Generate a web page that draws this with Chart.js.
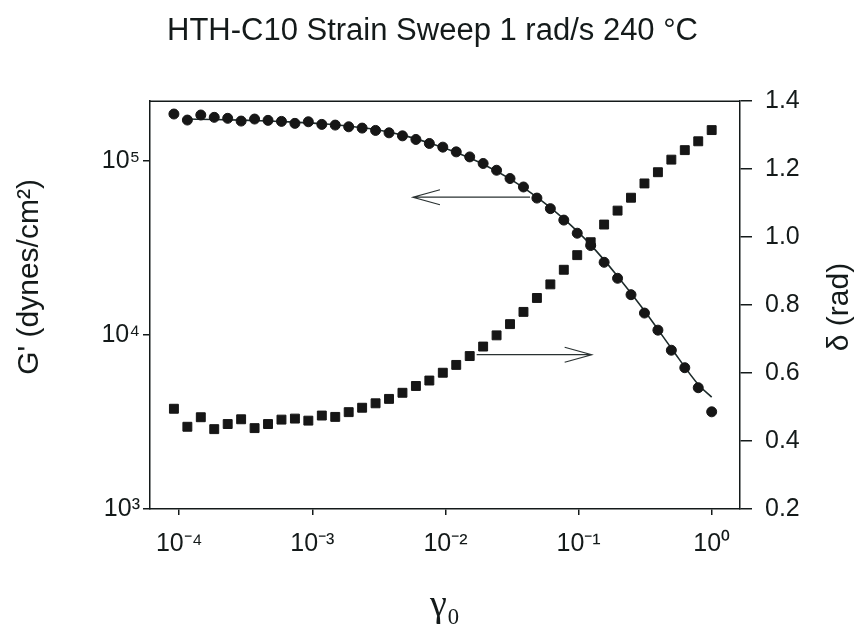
<!DOCTYPE html>
<html>
<head>
<meta charset="utf-8">
<script src="https://cdn.jsdelivr.net/npm/chart.js@4.4.0/dist/chart.umd.min.js"></script>
<style>
  html, body { margin: 0; padding: 0; background: #ffffff; }
  #wrap { width: 865px; height: 633px; position: relative; }
</style>
</head>
<body>
<div id="wrap"><canvas id="c" width="865" height="633"></canvas></div>
<script>
// ---------------- data ----------------
const strain = [
  9.12e-5, 1.151e-4, 1.452e-4, 1.832e-4, 2.312e-4, 2.917e-4, 3.681e-4, 4.645e-4, 5.861e-4, 7.396e-4,
  9.33e-4, 1.178e-3, 1.486e-3, 1.875e-3, 2.366e-3, 2.985e-3, 3.767e-3, 4.753e-3, 5.998e-3, 7.568e-3,
  9.55e-3, 1.205e-2, 1.521e-2, 1.919e-2, 2.421e-2, 3.055e-2, 3.855e-2, 4.864e-2, 6.138e-2, 7.745e-2,
  9.77e-2, 0.1233, 0.1556, 0.1963, 0.2477, 0.3126, 0.3945, 0.4977, 0.628, 0.7925,
  1.0
];
const storageModulus = [
  1.865e5, 1.722e5, 1.841e5, 1.785e5, 1.762e5, 1.699e5, 1.745e5, 1.715e5, 1.692e5, 1.648e5,
  1.683e5, 1.626e5, 1.611e5, 1.575e5, 1.548e5, 1.501e5, 1.454e5, 1.397e5, 1.332e5, 1.263e5,
  1.203e5, 1.130e5, 1.057e5, 9.69e4, 8.86e4, 7.94e4, 7.10e4, 6.13e4, 5.33e4, 4.58e4,
  3.85e4, 3.27e4, 2.62e4, 2.12e4, 1.706e4, 1.338e4, 1.067e4, 8.18e3, 6.49e3, 4.98e3,
  3.62e3
];
const phaseAngle = [
  0.495, 0.442, 0.470, 0.435, 0.450, 0.464, 0.438, 0.450, 0.463, 0.466,
  0.460, 0.475, 0.471, 0.485, 0.498, 0.511, 0.524, 0.542, 0.562, 0.578,
  0.601, 0.624, 0.650, 0.678, 0.711, 0.744, 0.780, 0.821, 0.861, 0.904,
  0.947, 0.985, 1.037, 1.078, 1.116, 1.158, 1.191, 1.228, 1.256, 1.282,
  1.315
];
const fitStrain = [
  1.151e-4, 1.832e-4, 2.917e-4, 4.645e-4, 7.396e-4, 1.178e-3, 1.875e-3, 2.985e-3, 4.753e-3, 7.568e-3,
  1.205e-2, 1.919e-2, 3.055e-2, 4.864e-2, 7.745e-2, 0.1233, 0.1963, 0.3126, 0.4977, 0.7925, 1.0
];
const fitModulus = [
  1.745e5, 1.735e5, 1.72e5, 1.70e5, 1.675e5, 1.64e5, 1.59e5, 1.52e5, 1.41e5, 1.27e5,
  1.12e5, 9.6e4, 7.9e4, 6.2e4, 4.65e4, 3.3e4, 2.18e4, 1.38e4, 8.4e3, 5.2e3, 4.4e3
];
const strainTicks = [1e-4, 1e-3, 1e-2, 1e-1, 1];
const modulusTicks = [1e3, 1e4, 1e5];
const deltaTicks = [0.2, 0.4, 0.6, 0.8, 1.0, 1.2, 1.4];
// annotation arrows, in data units: [fromStrain, toStrain, level]
const arrowToModulus = [0.0432, 0.0057, 6.2e4];
const arrowToDelta = [0.01715, 0.1254, 0.654];

// ---------------- styles / layout ----------------
const INK = '#141a1a';
const SANS = "'Liberation Sans', Arial, sans-serif";
const SERIF = "'Liberation Serif', 'DejaVu Serif', serif";
const W = 865, H = 633;
const AREA = { left: 150, right: 740, bottom: 509 };

const SUP = { '-': '\u207B', '0': '\u2070', '1': '\u00B9', '2': '\u00B2', '3': '\u00B3',
  '4': '\u2074', '5': '\u2075', '6': '\u2076', '7': '\u2077', '8': '\u2078', '9': '\u2079' };
function pow10Label(v) {
  const e = Math.round(Math.log10(v));
  return '10' + String(e).split('').map(c => SUP[c]).join('');
}

const decor = {
  id: 'decor',
  afterDraw(chart) {
    const { ctx, chartArea: a, scales } = chart;
    ctx.save();
    // top frame line
    ctx.strokeStyle = INK;
    ctx.lineWidth = 1.5;
    ctx.beginPath();
    ctx.moveTo(a.left, a.top);
    ctx.lineTo(a.right, a.top);
    ctx.stroke();
    // arrows
    const drawArrow = (spec, yScale) => {
      const x1 = scales.x.getPixelForValue(spec[0]);
      const x2 = scales.x.getPixelForValue(spec[1]);
      const y = yScale.getPixelForValue(spec[2]);
      const dir = Math.sign(x2 - x1);
      ctx.strokeStyle = '#2a3232';
      ctx.lineWidth = 1.2;
      ctx.beginPath();
      ctx.moveTo(x1, y); ctx.lineTo(x2, y);
      ctx.moveTo(x2 - dir * 27, y - 7.5); ctx.lineTo(x2, y); ctx.lineTo(x2 - dir * 27, y + 7.5);
      ctx.stroke();
    };
    drawArrow(arrowToModulus, scales.yG);
    drawArrow(arrowToDelta, scales.yD);
    // rotated axis titles
    ctx.fillStyle = INK;
    ctx.font = '30px ' + SANS;
    ctx.textAlign = 'center';
    ctx.textBaseline = 'middle';
    ctx.save();
    ctx.translate(30, 277);
    ctx.rotate(-Math.PI / 2);
    ctx.fillText("G' (dynes/cm\u00B2)", 0, 0);
    ctx.restore();
    ctx.save();
    ctx.translate(840, 307);
    ctx.rotate(-Math.PI / 2);
    ctx.fillText('\u03B4 (rad)', 0, 0);
    ctx.restore();
    ctx.restore();
  }
};

const tickFont = { family: SANS, size: 25 };

new Chart(document.getElementById('c'), {
  type: 'scatter',
  data: {
    datasets: [
      {
        label: 'fit',
        data: fitStrain.map((x, i) => ({ x, y: fitModulus[i] })),
        yAxisID: 'yG',
        showLine: true,
        pointRadius: 0,
        borderColor: '#1d2b2b',
        borderWidth: 1.6,
        cubicInterpolationMode: 'monotone',
        order: 3
      },
      {
        label: "G'",
        data: strain.map((x, i) => ({ x, y: storageModulus[i] })),
        yAxisID: 'yG',
        pointStyle: 'circle',
        pointRadius: 5,
        backgroundColor: '#161616',
        borderColor: '#161616',
        borderWidth: 1,
        order: 2
      },
      {
        label: '\u03B4',
        data: strain.map((x, i) => ({ x, y: phaseAngle[i] })),
        yAxisID: 'yD',
        pointStyle: 'rect',
        pointRadius: 6.3,
        backgroundColor: '#161616',
        borderColor: '#161616',
        borderWidth: 1,
        order: 1
      }
    ]
  },
  options: {
    responsive: false,
    animation: false,
    devicePixelRatio: 1,
    layout: { padding: 0 },
    plugins: {
      legend: { display: false },
      tooltip: { enabled: false },
      title: {
        display: true,
        text: 'HTH-C10 Strain Sweep 1 rad/s 240 \u00B0C',
        color: INK,
        font: { family: SANS, size: 31, weight: 'normal' },
        padding: { top: 13, bottom: 51 }
      }
    },
    scales: {
      x: {
        type: 'logarithmic',
        position: 'bottom',
        min: 6.03e-5,
        max: 1.632,
        afterBuildTicks: s => { s.ticks = strainTicks.map(v => ({ value: v })); },
        afterFit: s => { s.height = H - AREA.bottom; },
        ticks: { callback: v => pow10Label(v), font: tickFont, color: INK, padding: 14, maxRotation: 0, autoSkip: false },
        grid: { drawOnChartArea: false, drawTicks: true, tickLength: 6, color: INK, lineWidth: 1.5 },
        border: { display: true, color: INK, width: 1.5 },
        title: { display: true, text: '\u03B3\u2080', color: INK, font: { family: SERIF, size: 38 }, padding: { top: 0, bottom: 4 } }
      },
      yG: {
        type: 'logarithmic',
        position: 'left',
        min: 1000,
        max: 2.21e5,
        afterBuildTicks: s => { s.ticks = modulusTicks.map(v => ({ value: v })); },
        afterFit: s => { s.width = AREA.left; },
        ticks: { callback: v => pow10Label(v), font: tickFont, color: INK, padding: 3, autoSkip: false },
        grid: { drawOnChartArea: false, drawTicks: true, tickLength: 7, color: INK, lineWidth: 1.5 },
        border: { display: true, color: INK, width: 1.5 }
      },
      yD: {
        type: 'linear',
        position: 'right',
        min: 0.2,
        max: 1.4,
        afterBuildTicks: s => { s.ticks = deltaTicks.map(v => ({ value: v })); },
        afterFit: s => { s.width = W - AREA.right; },
        ticks: { callback: v => Number(v).toFixed(1), font: tickFont, color: INK, padding: 13, autoSkip: false },
        grid: { drawOnChartArea: false, drawTicks: true, tickLength: 12, color: INK, lineWidth: 1.5 },
        border: { display: true, color: INK, width: 1.5 }
      }
    }
  },
  plugins: [decor]
});
</script>
</body>
</html>
